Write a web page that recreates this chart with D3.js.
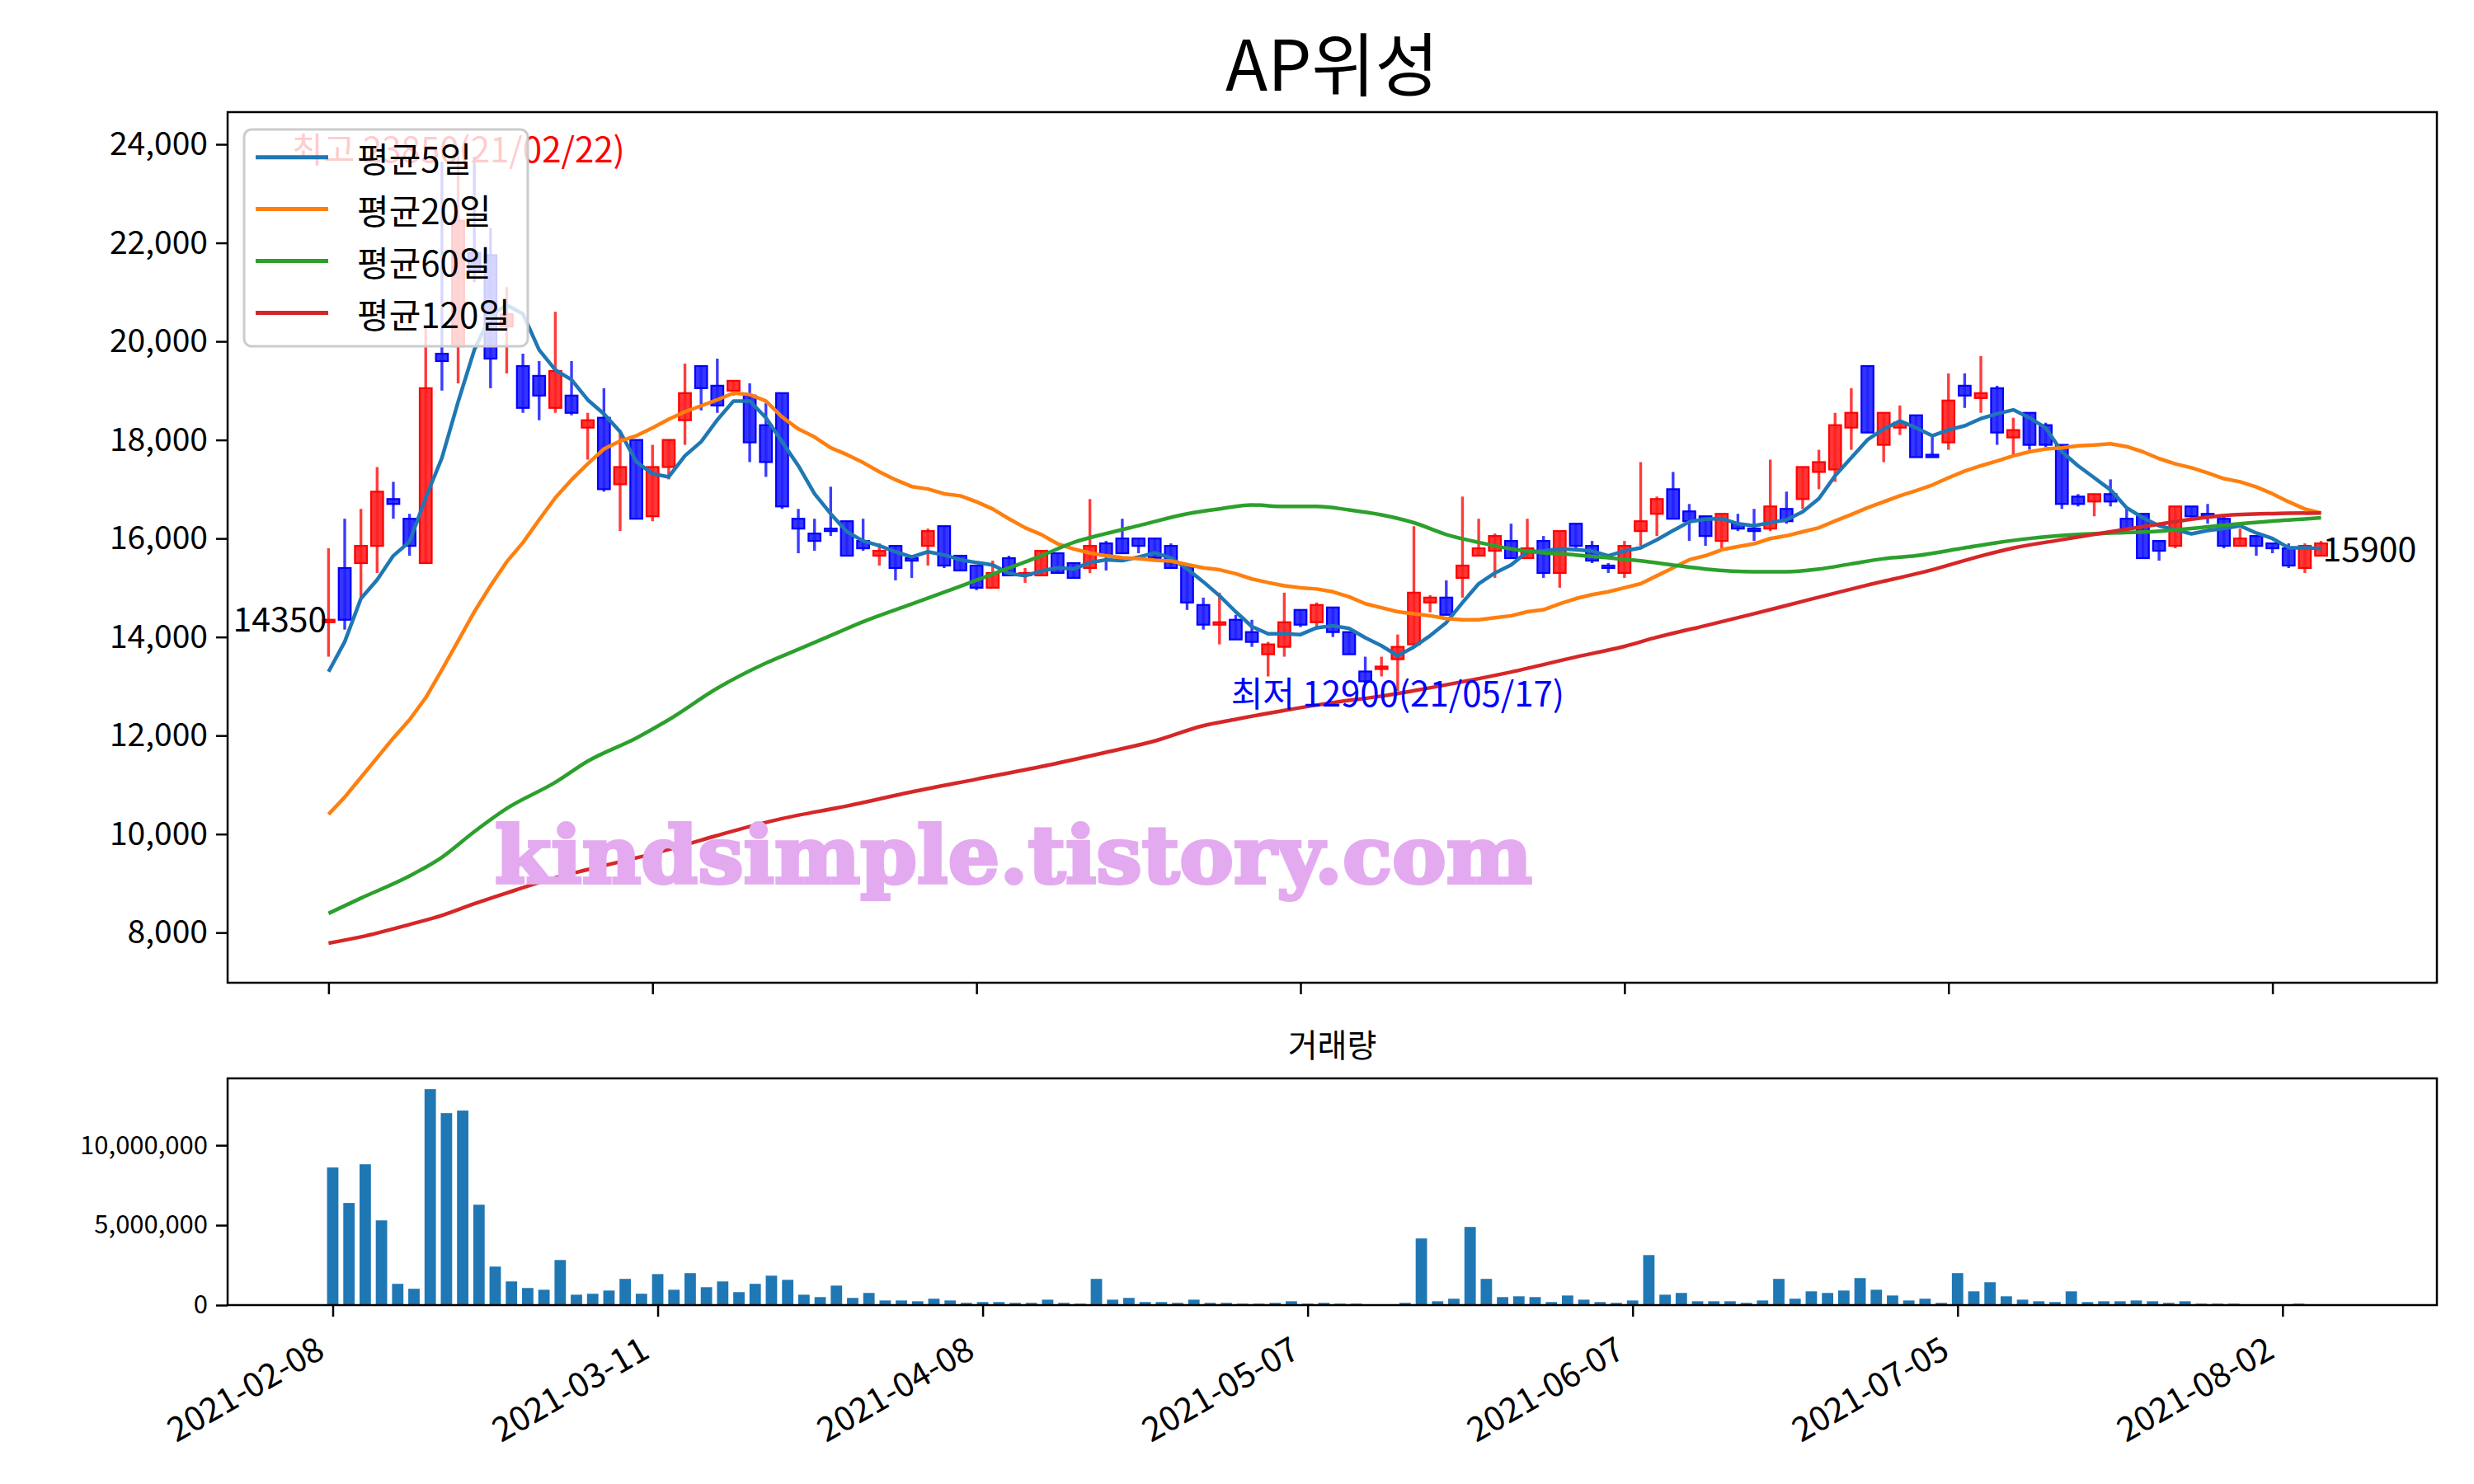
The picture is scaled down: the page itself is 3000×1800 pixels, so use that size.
<!DOCTYPE html>
<html><head><meta charset="utf-8">
<script src="https://cdn.jsdelivr.net/npm/d3@7"></script>
<style>body{margin:0;background:#fff} svg{display:block}</style>
</head><body>
<svg id="chart" width="3000" height="1800"></svg>
<script>
// ---------- DATA ----------
const tickIdx = [0,20,40,60,80,100,120];
const tickLabels = ['2021-02-08','2021-03-11','2021-04-08','2021-05-07','2021-06-07','2021-07-05','2021-08-02'];
const priceTicks = [8000,10000,12000,14000,16000,18000,20000,22000,24000];
const volumeTicks = [0,5000000,10000000];
const seriesNames = ['평균5일','평균20일','평균60일','평균120일'];

const opens = [14300,15400,15500,15850,16800,16400,15500,19750,19900,21800,
21750,20300,19500,19300,18650,18900,18250,18450,17100,18000,
16450,17450,18400,19500,19100,19000,18900,18300,18950,16400,
16100,16200,16350,15950,15650,15850,15600,15850,16250,15650,
15450,15000,15600,15250,15250,15700,15500,15400,15900,16000,
16000,16000,15850,15450,14650,14250,14350,14100,13650,13800,
14550,14300,14600,14100,13300,13350,13550,13850,14700,14800,
15200,15650,15750,15950,15600,15950,15300,16300,15850,15450,
15300,16150,16500,17000,16550,16450,15950,16300,16200,16200,
16600,16800,17350,17400,18250,19500,17900,18250,18500,17700,
17950,19100,18850,19050,18050,18550,18300,17900,16850,16750,
16900,16400,16500,15950,15850,16650,16500,16400,15850,16050,
15900,15800,15400,15650];
const highs = [15800,16400,16600,17450,17150,16500,20300,23650,23850,23750,
22300,21100,19750,19600,20600,19600,18550,19050,18200,18000,
17900,18000,19550,19500,19650,19200,19150,18750,18950,16600,
16400,17050,16350,16400,15900,15850,15650,16200,16250,15650,
15450,15550,15650,15400,15750,15700,15500,16800,15950,16400,
16000,16000,15900,15450,14800,14900,14450,14350,13900,14900,
14550,14700,14600,14100,13600,13600,14050,16250,14850,15150,
16850,16400,16100,16300,16400,16050,16150,16300,15950,15500,
15950,17550,16850,17350,16700,16450,16500,16500,16600,17600,
16950,17450,17800,18550,19050,19500,18550,18700,18500,18100,
19350,19350,19700,19100,18450,18550,18350,17900,16900,16900,
17200,16600,16500,15950,16650,16650,16700,16450,16200,16050,
15900,15900,15900,15950];
const lows = [13600,14150,14800,15300,16400,15650,15500,19000,19150,21200,
19050,19350,18550,18400,18550,18500,17600,16950,16150,16400,
16350,17200,17900,18600,18550,18900,17550,17250,16600,15700,
15750,16050,15650,15750,15450,15150,15200,15450,15400,15350,
14950,15000,15250,15100,15250,15300,15200,15300,15350,15700,
15700,15600,15400,14550,14150,13850,13950,13800,13200,13600,
14200,14150,14000,13650,13050,13200,12900,13850,14500,14450,
14800,15650,15200,15600,15600,15200,15000,15750,15500,15300,
15200,15850,16050,16400,15950,15850,15800,16150,15950,16150,
16300,16600,17000,17150,17800,18150,17550,18100,17650,17650,
17800,18650,18550,17900,17700,17800,17850,16600,16650,16450,
16650,16200,15600,15550,15800,16400,16300,15800,15850,15650,
15700,15400,15300,15650];
const closes = [14350,14350,15850,16950,16700,15850,19050,19600,22450,21400,
19650,20550,18650,18900,19400,18550,18400,17000,17450,16400,
17450,18000,18950,19050,18700,19200,17950,17550,16650,16200,
15950,16150,15650,15800,15750,15400,15550,16150,15450,15350,
15000,15300,15250,15300,15750,15300,15200,15850,15650,15700,
15850,15600,15400,14700,14250,14300,13950,13900,13850,14300,
14250,14650,14100,13650,13100,13400,13800,14900,14800,14450,
15450,15800,16050,15600,15800,15300,16150,15850,15550,15400,
15850,16350,16800,16400,16350,16050,16500,16200,16150,16650,
16350,17450,17550,18300,18550,18150,18550,18350,17650,17650,
18800,18900,18950,18150,18200,17900,17900,16700,16700,16900,
16750,16200,15600,15750,16650,16450,16450,15850,16000,15850,
15800,15450,15850,15900];
const volumes = [8610000,6390000,8810000,5300000,1330000,1020000,13510000,12010000,12170000,6280000,
2410000,1480000,1070000,960000,2820000,650000,710000,910000,1640000,710000,
1940000,960000,2000000,1120000,1480000,810000,1330000,1840000,1580000,650000,
500000,1220000,450000,760000,290000,290000,240000,400000,290000,140000,
190000,190000,140000,140000,340000,140000,90000,1640000,340000,450000,
190000,190000,140000,340000,140000,140000,90000,90000,140000,240000,
90000,140000,90000,90000,20000,20000,140000,4170000,240000,400000,
4890000,1640000,500000,550000,500000,190000,600000,340000,190000,140000,
290000,3130000,650000,760000,240000,240000,240000,140000,290000,1640000,
400000,860000,760000,910000,1690000,960000,600000,290000,400000,140000,
2000000,860000,1430000,550000,340000,240000,190000,860000,190000,240000,
240000,290000,240000,140000,240000,90000,90000,90000,20000,20000,
20000,90000,20000,20000];
const ma5 = [13295,13904,14780,15162,15649,15933,16826,17637,18773,19829,
20518,20738,20559,19829,19423,19220,18814,18530,18165,17556,
17313,17250,17678,17962,18408,18790,18790,18449,17962,17475,
16907,16501,16136,15950,15852,15730,15624,15730,15665,15568,
15511,15462,15292,15243,15340,15405,15381,15511,15568,15551,
15624,15706,15608,15381,15121,14837,14513,14212,14066,14066,
14050,14188,14229,14175,13985,13823,13620,13798,14026,14293,
14699,15081,15300,15462,15730,15746,15787,15771,15746,15649,
15746,15811,15973,16160,16339,16390,16404,16298,16258,16322,
16379,16542,16809,17272,17637,18002,18222,18384,18246,18084,
18205,18287,18433,18530,18611,18449,18246,17759,17475,17231,
16988,16623,16420,16258,16176,16095,16160,16201,16258,16111,
15998,15811,15811,15795];
const ma20 = [10400,10750,11150,11550,11950,12321,12768,13336,13920,14513,
15040,15527,15917,16379,16826,17191,17515,17816,17978,18084,
18246,18420,18571,18692,18814,18952,18920,18790,18465,18222,
18059,17840,17702,17540,17353,17191,17053,17004,16907,16866,
16744,16598,16400,16217,16079,15892,15787,15706,15649,15608,
15592,15559,15543,15470,15405,15365,15284,15178,15105,15040,
15000,14975,14918,14817,14675,14594,14513,14472,14431,14374,
14350,14350,14391,14431,14513,14553,14675,14780,14861,14918,
15000,15081,15243,15405,15568,15650,15771,15835,15892,15998,
16055,16136,16217,16355,16485,16623,16744,16866,16972,17085,
17231,17369,17475,17572,17678,17759,17816,17840,17881,17897,
17921,17864,17759,17621,17515,17434,17329,17215,17150,17045,
16907,16744,16598,16517];
const ma60Idx = [0,2,5,7,9,11,14,16,19,21,24,27,29,31,33,36,39,42,44,46,48,50,53,55,57,59,61,63,65,67,69,71,73,75,77,79,81,83,85,88,90,92,94,96,98,101,103,105,108,110,112,114,116,118,120,122,123];
const ma60 = [8390,8700,9150,9530,10050,10520,11050,11480,11950,12320,12960,13470,13750,14030,14310,14670,15030,15400,15650,15920,16100,16260,16500,16600,16680,16650,16650,16580,16480,16320,16080,15920,15790,15710,15665,15610,15545,15460,15380,15325,15325,15380,15485,15590,15650,15810,15915,16000,16080,16110,16130,16175,16235,16300,16355,16395,16420];
const ma120Idx = [0,2,5,7,9,11,14,16,20,23,25,28,32,36,40,44,48,51,54,56,59,62,65,67,70,73,77,80,82,85,88,91,95,99,102,104,107,110,113,115,117,120,123];
const ma120 = [7786,7914,8165,8350,8586,8805,9113,9280,9600,9877,10065,10314,10570,10856,11114,11370,11660,11890,12200,12330,12510,12670,12800,12910,13092,13290,13595,13810,13995,14230,14472,14725,15055,15365,15645,15805,15975,16136,16290,16390,16465,16505,16517];

// ---------- LAYOUT ----------
const FONT = '"Noto Sans CJK KR","Noto Sans",sans-serif';
const P = {l:276, r:2955, t:136, b:1192};
const V = {l:276, r:2955, t:1308, b:1583};
const colors = ['#1f77b4','#ff7f0e','#2ca02c','#d62728'];
const N = closes.length;

const pMin = Math.min(d3.min(lows), d3.min(ma120), d3.min(ma60), d3.min(ma20), d3.min(ma5));
const pMax = Math.max(d3.max(highs), d3.max(ma5));
const pPad = (pMax - pMin) * 0.05;

const x  = d3.scaleLinear().domain([-6.23, 130.15]).range([P.l, P.r]);
const y  = d3.scaleLinear().domain([pMin - pPad, pMax + pPad]).range([P.b, P.t]);
const xv = d3.scaleLinear().domain([-6.47, 129.5]).range([V.l, V.r]);
const yv = d3.scaleLinear().domain([0, d3.max(volumes) * 1.05]).range([V.b, V.t]);

const svg = d3.select('#chart');
svg.append('rect').attr('width',3000).attr('height',1800).attr('fill','#fff');

// title
svg.append('text').attr('x',(P.l+P.r)/2).attr('y',110).attr('text-anchor','middle')
  .attr('font-family',FONT).attr('font-size',84).attr('fill','#000').text('AP위성');

// ---------- PRICE PANEL ----------
const gp = svg.append('g');
const bw = x(0.74) - x(0);
const idx = d3.range(N);
const up = i => closes[i] >= opens[i];

gp.append('g').selectAll('line').data(idx).join('line')
  .attr('x1', i => x(i)).attr('x2', i => x(i))
  .attr('y1', i => y(highs[i])).attr('y2', i => y(lows[i]))
  .attr('stroke', i => up(i) ? '#ff3c3c' : '#3c3cff').attr('stroke-width',3.4);

gp.append('g').selectAll('rect').data(idx).join('rect')
  .attr('x', i => x(i) - bw/2).attr('width', bw)
  .attr('y', i => y(Math.max(opens[i], closes[i])))
  .attr('height', i => Math.max(2, Math.abs(y(opens[i]) - y(closes[i]))))
  .attr('fill', i => up(i) ? '#ff1f1f' : '#1f1fff')
  .attr('stroke', i => up(i) ? '#ff0000' : '#0000ff').attr('stroke-width',2.2)
  .attr('fill-opacity',0.9);

const lineFull = d3.line().x((d,i) => x(i)).y(d => y(d));
const lineSparse = (ix) => d3.line().curve(d3.curveMonotoneX).x((d,i) => x(ix[i])).y(d => y(d));
gp.append('path').attr('d', lineFull(ma5)).attr('fill','none').attr('stroke',colors[0]).attr('stroke-width',4.5).attr('stroke-linejoin','round');
gp.append('path').attr('d', lineFull(ma20)).attr('fill','none').attr('stroke',colors[1]).attr('stroke-width',4.5).attr('stroke-linejoin','round');
gp.append('path').attr('d', lineSparse(ma60Idx)(ma60)).attr('fill','none').attr('stroke',colors[2]).attr('stroke-width',4.5);
gp.append('path').attr('d', lineSparse(ma120Idx)(ma120)).attr('fill','none').attr('stroke',colors[3]).attr('stroke-width',4.5);

// annotations
const hiI = d3.maxIndex(highs), loI = d3.minIndex(lows);
const hiDate = '21/02/22', loDate = '21/05/17';
gp.append('text').attr('x', x(hiI)).attr('y', y(highs[hiI]) - 6).attr('text-anchor','middle')
  .attr('dominant-baseline','central').attr('font-family',FONT).attr('font-size',42).attr('fill','#ff0000')
  .text(`최고 ${highs[hiI]}(${hiDate})`);
gp.append('text').attr('x', x(loI)).attr('y', y(lows[loI])).attr('text-anchor','middle')
  .attr('dominant-baseline','central').attr('font-family',FONT).attr('font-size',42).attr('fill','#0000ff')
  .text(`최저 ${lows[loI]}(${loDate})`);
gp.append('text').attr('x', x(0) - 2).attr('y', y(closes[0]) - 4).attr('text-anchor','end')
  .attr('dominant-baseline','central').attr('font-family',FONT).attr('font-size',41).attr('fill','#000')
  .text(closes[0]);
gp.append('text').attr('x', x(N-1) + 2).attr('y', y(closes[N-1]) + 4).attr('text-anchor','start')
  .attr('dominant-baseline','central').attr('font-family',FONT).attr('font-size',41).attr('fill','#000')
  .text(closes[N-1]);

// watermark
gp.append('text').attr('x',600).attr('y',1071).attr('font-family','"DejaVu Serif",serif')
  .attr('font-weight',900).attr('font-size',96).attr('fill','#e4aaf0').attr('stroke','#e4aaf0').attr('stroke-width',4)
  .attr('textLength',1258).attr('lengthAdjust','spacingAndGlyphs').text('kindsimple.tistory.com');

// legend
const lg = gp.append('g');
lg.append('rect').attr('x',296).attr('y',157).attr('width',344).attr('height',263).attr('rx',9)
  .attr('fill','#fff').attr('fill-opacity',0.8).attr('stroke','#cccccc').attr('stroke-width',3);
seriesNames.forEach((s,k) => {
  const ly = 190.7 + k*62.9;
  lg.append('line').attr('x1',310).attr('x2',398).attr('y1',ly).attr('y2',ly).attr('stroke',colors[k]).attr('stroke-width',5);
  lg.append('text').attr('x',433).attr('y',ly).attr('dominant-baseline','central')
    .attr('font-family',FONT).attr('font-size',42).attr('fill','#000').text(s);
});

// frame + axes
gp.append('rect').attr('x',P.l).attr('y',P.t).attr('width',P.r-P.l).attr('height',P.b-P.t)
  .attr('fill','none').attr('stroke','#000').attr('stroke-width',2.5);
function styleAxis(g, fs){
  g.select('.domain').remove();
  g.selectAll('.tick line').attr('stroke','#000').attr('stroke-width',2.5);
  g.selectAll('.tick text').attr('font-family',FONT).attr('font-size',fs).attr('fill','#000');
}
const ayP = svg.append('g').attr('transform',`translate(${P.l},0)`)
  .call(d3.axisLeft(y).tickValues(priceTicks).tickFormat(d3.format(',')).tickSize(14).tickPadding(10));
styleAxis(ayP, 39);
const axP = svg.append('g').attr('transform',`translate(0,${P.b})`)
  .call(d3.axisBottom(x).tickValues(tickIdx).tickFormat('').tickSize(14));
styleAxis(axP, 39);

// ---------- VOLUME PANEL ----------
const gv = svg.append('g');
const vbw = xv(0.7) - xv(0);
gv.selectAll('rect').data(idx).join('rect')
  .attr('x', i => xv(i) - vbw/2).attr('width', vbw)
  .attr('y', i => yv(volumes[i])).attr('height', i => yv(0) - yv(volumes[i]))
  .attr('fill', colors[0]);
gv.append('rect').attr('x',V.l).attr('y',V.t).attr('width',V.r-V.l).attr('height',V.b-V.t)
  .attr('fill','none').attr('stroke','#000').attr('stroke-width',2.5);
svg.append('text').attr('x',(V.l+V.r)/2).attr('y',1265).attr('text-anchor','middle').attr('dominant-baseline','central')
  .attr('font-family',FONT).attr('font-size',39).attr('fill','#000').text('거래량');

const ayV = svg.append('g').attr('transform',`translate(${V.l},0)`)
  .call(d3.axisLeft(yv).tickValues(volumeTicks).tickFormat(d3.format(',')).tickSize(14).tickPadding(10));
styleAxis(ayV, 31);
const axV = svg.append('g').attr('transform',`translate(0,${V.b})`)
  .call(d3.axisBottom(xv).tickValues(tickIdx).tickFormat((d,i) => tickLabels[i]).tickSize(14));
styleAxis(axV, 41);
axV.selectAll('.tick text').attr('x',0).attr('y',0).attr('dy',null)
  .attr('text-anchor','end').attr('transform','translate(-8,62) rotate(-30)');
</script>
</body></html>
